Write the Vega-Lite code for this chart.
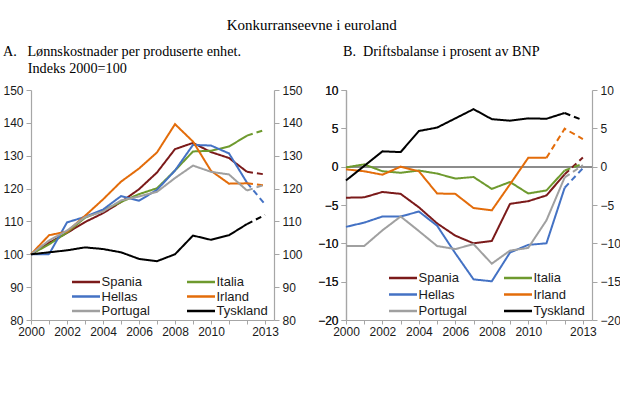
{
  "$schema": "https://vega.github.io/schema/vega-lite/v6.json",
  "background": "white",
  "padding": {"left": 2, "top": 17, "right": 4, "bottom": 4},
  "title": {"text": "Konkurranseevne i euroland", "font": "Liberation Serif", "fontSize": 15, "fontWeight": "normal", "color": "#000", "anchor": "middle", "offset": 12},
  "config": {
    "view": {"stroke": null},
    "axis": {"labelFont": "Liberation Sans", "labelFontSize": 12, "labelColor": "#1a1a1a", "domainColor": "#A6A6A6", "tickColor": "#A6A6A6", "domainWidth": 1.2, "grid": false, "title": null, "tickSize": 5, "labelPadding": 3},
    "legend": {"orient": "none", "columns": 2, "padding": 0, "symbolType": "M-2.55,0H2.55", "symbolStrokeWidth": 2.5, "symbolSize": 121, "labelFont": "Liberation Sans", "labelFontSize": 13, "labelColor": "#1a1a1a", "labelOffset": 8.5, "rowPadding": 0.5, "title": null, "gridAlign": "all"}
  },
  "resolve": {"legend": {"color": "independent"}},
  "spacing": 14,
  "datasets": {
    "A": [
      {"land": "Spania", "year": 2000, "v": 100, "s": "faktisk"},
      {"land": "Spania", "year": 2001, "v": 103.5, "s": "faktisk"},
      {"land": "Spania", "year": 2002, "v": 106.5, "s": "faktisk"},
      {"land": "Spania", "year": 2003, "v": 109.8, "s": "faktisk"},
      {"land": "Spania", "year": 2004, "v": 112.5, "s": "faktisk"},
      {"land": "Spania", "year": 2005, "v": 115.9, "s": "faktisk"},
      {"land": "Spania", "year": 2006, "v": 119.8, "s": "faktisk"},
      {"land": "Spania", "year": 2007, "v": 124.9, "s": "faktisk"},
      {"land": "Spania", "year": 2008, "v": 132, "s": "faktisk"},
      {"land": "Spania", "year": 2009, "v": 133.9, "s": "faktisk"},
      {"land": "Spania", "year": 2010, "v": 131.1, "s": "faktisk"},
      {"land": "Spania", "year": 2011, "v": 129.3, "s": "faktisk"},
      {"land": "Spania", "year": 2012, "v": 125.1, "s": "faktisk"},
      {"land": "Spania", "year": 2012, "v": 125.1, "s": "anslag"},
      {"land": "Spania", "year": 2013, "v": 124.3, "s": "anslag"},
      {"land": "Italia", "year": 2000, "v": 100, "s": "faktisk"},
      {"land": "Italia", "year": 2001, "v": 103, "s": "faktisk"},
      {"land": "Italia", "year": 2002, "v": 106.6, "s": "faktisk"},
      {"land": "Italia", "year": 2003, "v": 111.1, "s": "faktisk"},
      {"land": "Italia", "year": 2004, "v": 113.4, "s": "faktisk"},
      {"land": "Italia", "year": 2005, "v": 115.9, "s": "faktisk"},
      {"land": "Italia", "year": 2006, "v": 118.3, "s": "faktisk"},
      {"land": "Italia", "year": 2007, "v": 120.1, "s": "faktisk"},
      {"land": "Italia", "year": 2008, "v": 125.5, "s": "faktisk"},
      {"land": "Italia", "year": 2009, "v": 131.3, "s": "faktisk"},
      {"land": "Italia", "year": 2010, "v": 131.5, "s": "faktisk"},
      {"land": "Italia", "year": 2011, "v": 132.8, "s": "faktisk"},
      {"land": "Italia", "year": 2012, "v": 136.1, "s": "faktisk"},
      {"land": "Italia", "year": 2012, "v": 136.1, "s": "anslag"},
      {"land": "Italia", "year": 2013, "v": 137.9, "s": "anslag"},
      {"land": "Hellas", "year": 2000, "v": 100, "s": "faktisk"},
      {"land": "Hellas", "year": 2001, "v": 100, "s": "faktisk"},
      {"land": "Hellas", "year": 2002, "v": 109.7, "s": "faktisk"},
      {"land": "Hellas", "year": 2003, "v": 111.4, "s": "faktisk"},
      {"land": "Hellas", "year": 2004, "v": 113.6, "s": "faktisk"},
      {"land": "Hellas", "year": 2005, "v": 117.7, "s": "faktisk"},
      {"land": "Hellas", "year": 2006, "v": 116.3, "s": "faktisk"},
      {"land": "Hellas", "year": 2007, "v": 119.6, "s": "faktisk"},
      {"land": "Hellas", "year": 2008, "v": 125.5, "s": "faktisk"},
      {"land": "Hellas", "year": 2009, "v": 133.3, "s": "faktisk"},
      {"land": "Hellas", "year": 2010, "v": 133.1, "s": "faktisk"},
      {"land": "Hellas", "year": 2011, "v": 130.7, "s": "faktisk"},
      {"land": "Hellas", "year": 2012, "v": 121.8, "s": "faktisk"},
      {"land": "Hellas", "year": 2012, "v": 121.8, "s": "anslag"},
      {"land": "Hellas", "year": 2013, "v": 115.2, "s": "anslag"},
      {"land": "Irland", "year": 2000, "v": 100, "s": "faktisk"},
      {"land": "Irland", "year": 2001, "v": 105.8, "s": "faktisk"},
      {"land": "Irland", "year": 2002, "v": 106.9, "s": "faktisk"},
      {"land": "Irland", "year": 2003, "v": 111.7, "s": "faktisk"},
      {"land": "Irland", "year": 2004, "v": 116.7, "s": "faktisk"},
      {"land": "Irland", "year": 2005, "v": 122.1, "s": "faktisk"},
      {"land": "Irland", "year": 2006, "v": 126.1, "s": "faktisk"},
      {"land": "Irland", "year": 2007, "v": 131, "s": "faktisk"},
      {"land": "Irland", "year": 2008, "v": 139.6, "s": "faktisk"},
      {"land": "Irland", "year": 2009, "v": 134.3, "s": "faktisk"},
      {"land": "Irland", "year": 2010, "v": 125.4, "s": "faktisk"},
      {"land": "Irland", "year": 2011, "v": 121.5, "s": "faktisk"},
      {"land": "Irland", "year": 2012, "v": 121.6, "s": "faktisk"},
      {"land": "Irland", "year": 2012, "v": 121.6, "s": "anslag"},
      {"land": "Irland", "year": 2013, "v": 120.9, "s": "anslag"},
      {"land": "Portugal", "year": 2000, "v": 100, "s": "faktisk"},
      {"land": "Portugal", "year": 2001, "v": 104.2, "s": "faktisk"},
      {"land": "Portugal", "year": 2002, "v": 107.2, "s": "faktisk"},
      {"land": "Portugal", "year": 2003, "v": 111.3, "s": "faktisk"},
      {"land": "Portugal", "year": 2004, "v": 113, "s": "faktisk"},
      {"land": "Portugal", "year": 2005, "v": 116.4, "s": "faktisk"},
      {"land": "Portugal", "year": 2006, "v": 117.6, "s": "faktisk"},
      {"land": "Portugal", "year": 2007, "v": 119, "s": "faktisk"},
      {"land": "Portugal", "year": 2008, "v": 123.2, "s": "faktisk"},
      {"land": "Portugal", "year": 2009, "v": 127, "s": "faktisk"},
      {"land": "Portugal", "year": 2010, "v": 125.1, "s": "faktisk"},
      {"land": "Portugal", "year": 2011, "v": 124.3, "s": "faktisk"},
      {"land": "Portugal", "year": 2012, "v": 119.4, "s": "faktisk"},
      {"land": "Portugal", "year": 2012, "v": 119.4, "s": "anslag"},
      {"land": "Portugal", "year": 2013, "v": 121.2, "s": "anslag"},
      {"land": "Tyskland", "year": 2000, "v": 100, "s": "faktisk"},
      {"land": "Tyskland", "year": 2001, "v": 100.6, "s": "faktisk"},
      {"land": "Tyskland", "year": 2002, "v": 101.2, "s": "faktisk"},
      {"land": "Tyskland", "year": 2003, "v": 102.1, "s": "faktisk"},
      {"land": "Tyskland", "year": 2004, "v": 101.6, "s": "faktisk"},
      {"land": "Tyskland", "year": 2005, "v": 100.6, "s": "faktisk"},
      {"land": "Tyskland", "year": 2006, "v": 98.6, "s": "faktisk"},
      {"land": "Tyskland", "year": 2007, "v": 97.9, "s": "faktisk"},
      {"land": "Tyskland", "year": 2008, "v": 100, "s": "faktisk"},
      {"land": "Tyskland", "year": 2009, "v": 105.7, "s": "faktisk"},
      {"land": "Tyskland", "year": 2010, "v": 104.4, "s": "faktisk"},
      {"land": "Tyskland", "year": 2011, "v": 105.8, "s": "faktisk"},
      {"land": "Tyskland", "year": 2012, "v": 109.2, "s": "faktisk"},
      {"land": "Tyskland", "year": 2012, "v": 109.2, "s": "anslag"},
      {"land": "Tyskland", "year": 2013, "v": 112, "s": "anslag"}
    ],
    "B": [
      {"land": "Spania", "year": 2000, "v": -4.05, "s": "faktisk"},
      {"land": "Spania", "year": 2001, "v": -4.0, "s": "faktisk"},
      {"land": "Spania", "year": 2002, "v": -3.3, "s": "faktisk"},
      {"land": "Spania", "year": 2003, "v": -3.55, "s": "faktisk"},
      {"land": "Spania", "year": 2004, "v": -5.3, "s": "faktisk"},
      {"land": "Spania", "year": 2005, "v": -7.4, "s": "faktisk"},
      {"land": "Spania", "year": 2006, "v": -9.0, "s": "faktisk"},
      {"land": "Spania", "year": 2007, "v": -10.0, "s": "faktisk"},
      {"land": "Spania", "year": 2008, "v": -9.7, "s": "faktisk"},
      {"land": "Spania", "year": 2009, "v": -4.85, "s": "faktisk"},
      {"land": "Spania", "year": 2010, "v": -4.5, "s": "faktisk"},
      {"land": "Spania", "year": 2011, "v": -3.75, "s": "faktisk"},
      {"land": "Spania", "year": 2012, "v": -1.0, "s": "faktisk"},
      {"land": "Spania", "year": 2012, "v": -1.0, "s": "anslag"},
      {"land": "Spania", "year": 2013, "v": 1.2, "s": "anslag"},
      {"land": "Italia", "year": 2000, "v": -0.1, "s": "faktisk"},
      {"land": "Italia", "year": 2001, "v": 0.3, "s": "faktisk"},
      {"land": "Italia", "year": 2002, "v": -0.6, "s": "faktisk"},
      {"land": "Italia", "year": 2003, "v": -0.8, "s": "faktisk"},
      {"land": "Italia", "year": 2004, "v": -0.5, "s": "faktisk"},
      {"land": "Italia", "year": 2005, "v": -0.9, "s": "faktisk"},
      {"land": "Italia", "year": 2006, "v": -1.55, "s": "faktisk"},
      {"land": "Italia", "year": 2007, "v": -1.35, "s": "faktisk"},
      {"land": "Italia", "year": 2008, "v": -2.9, "s": "faktisk"},
      {"land": "Italia", "year": 2009, "v": -2.0, "s": "faktisk"},
      {"land": "Italia", "year": 2010, "v": -3.5, "s": "faktisk"},
      {"land": "Italia", "year": 2011, "v": -3.1, "s": "faktisk"},
      {"land": "Italia", "year": 2012, "v": -0.5, "s": "faktisk"},
      {"land": "Italia", "year": 2012, "v": -0.5, "s": "anslag"},
      {"land": "Italia", "year": 2013, "v": 0.4, "s": "anslag"},
      {"land": "Hellas", "year": 2000, "v": -7.85, "s": "faktisk"},
      {"land": "Hellas", "year": 2001, "v": -7.3, "s": "faktisk"},
      {"land": "Hellas", "year": 2002, "v": -6.5, "s": "faktisk"},
      {"land": "Hellas", "year": 2003, "v": -6.5, "s": "faktisk"},
      {"land": "Hellas", "year": 2004, "v": -5.85, "s": "faktisk"},
      {"land": "Hellas", "year": 2005, "v": -7.7, "s": "faktisk"},
      {"land": "Hellas", "year": 2006, "v": -11.3, "s": "faktisk"},
      {"land": "Hellas", "year": 2007, "v": -14.7, "s": "faktisk"},
      {"land": "Hellas", "year": 2008, "v": -14.95, "s": "faktisk"},
      {"land": "Hellas", "year": 2009, "v": -11.2, "s": "faktisk"},
      {"land": "Hellas", "year": 2010, "v": -10.2, "s": "faktisk"},
      {"land": "Hellas", "year": 2011, "v": -10.0, "s": "faktisk"},
      {"land": "Hellas", "year": 2012, "v": -2.75, "s": "faktisk"},
      {"land": "Hellas", "year": 2012, "v": -2.75, "s": "anslag"},
      {"land": "Hellas", "year": 2013, "v": -0.2, "s": "anslag"},
      {"land": "Irland", "year": 2000, "v": -0.35, "s": "faktisk"},
      {"land": "Irland", "year": 2001, "v": -0.6, "s": "faktisk"},
      {"land": "Irland", "year": 2002, "v": -1.05, "s": "faktisk"},
      {"land": "Irland", "year": 2003, "v": 0.0, "s": "faktisk"},
      {"land": "Irland", "year": 2004, "v": -0.6, "s": "faktisk"},
      {"land": "Irland", "year": 2005, "v": -3.5, "s": "faktisk"},
      {"land": "Irland", "year": 2006, "v": -3.55, "s": "faktisk"},
      {"land": "Irland", "year": 2007, "v": -5.4, "s": "faktisk"},
      {"land": "Irland", "year": 2008, "v": -5.7, "s": "faktisk"},
      {"land": "Irland", "year": 2009, "v": -2.3, "s": "faktisk"},
      {"land": "Irland", "year": 2010, "v": 1.15, "s": "faktisk"},
      {"land": "Irland", "year": 2011, "v": 1.15, "s": "faktisk"},
      {"land": "Irland", "year": 2011, "v": 1.15, "s": "anslag"},
      {"land": "Irland", "year": 2012, "v": 4.95, "s": "anslag"},
      {"land": "Irland", "year": 2013, "v": 3.6, "s": "anslag"},
      {"land": "Portugal", "year": 2000, "v": -10.35, "s": "faktisk"},
      {"land": "Portugal", "year": 2001, "v": -10.35, "s": "faktisk"},
      {"land": "Portugal", "year": 2002, "v": -8.3, "s": "faktisk"},
      {"land": "Portugal", "year": 2003, "v": -6.5, "s": "faktisk"},
      {"land": "Portugal", "year": 2004, "v": -8.4, "s": "faktisk"},
      {"land": "Portugal", "year": 2005, "v": -10.35, "s": "faktisk"},
      {"land": "Portugal", "year": 2006, "v": -10.75, "s": "faktisk"},
      {"land": "Portugal", "year": 2007, "v": -10.1, "s": "faktisk"},
      {"land": "Portugal", "year": 2008, "v": -12.65, "s": "faktisk"},
      {"land": "Portugal", "year": 2009, "v": -10.95, "s": "faktisk"},
      {"land": "Portugal", "year": 2010, "v": -10.6, "s": "faktisk"},
      {"land": "Portugal", "year": 2011, "v": -7.0, "s": "faktisk"},
      {"land": "Portugal", "year": 2012, "v": -1.4, "s": "faktisk"},
      {"land": "Portugal", "year": 2012, "v": -1.4, "s": "anslag"},
      {"land": "Portugal", "year": 2013, "v": 0.2, "s": "anslag"},
      {"land": "Tyskland", "year": 2000, "v": -1.8, "s": "faktisk"},
      {"land": "Tyskland", "year": 2001, "v": 0.1, "s": "faktisk"},
      {"land": "Tyskland", "year": 2002, "v": 2.0, "s": "faktisk"},
      {"land": "Tyskland", "year": 2003, "v": 1.9, "s": "faktisk"},
      {"land": "Tyskland", "year": 2004, "v": 4.65, "s": "faktisk"},
      {"land": "Tyskland", "year": 2005, "v": 5.1, "s": "faktisk"},
      {"land": "Tyskland", "year": 2006, "v": 6.3, "s": "faktisk"},
      {"land": "Tyskland", "year": 2007, "v": 7.5, "s": "faktisk"},
      {"land": "Tyskland", "year": 2008, "v": 6.2, "s": "faktisk"},
      {"land": "Tyskland", "year": 2009, "v": 6.0, "s": "faktisk"},
      {"land": "Tyskland", "year": 2010, "v": 6.3, "s": "faktisk"},
      {"land": "Tyskland", "year": 2011, "v": 6.25, "s": "faktisk"},
      {"land": "Tyskland", "year": 2012, "v": 7.0, "s": "faktisk"},
      {"land": "Tyskland", "year": 2012, "v": 7.0, "s": "anslag"},
      {"land": "Tyskland", "year": 2013, "v": 6.05, "s": "anslag"}
    ]
  },
  "hconcat": [
    {
      "width": 243,
      "height": 230,
      "title": {"text": ["A.\u00a0\u00a0\u00a0Lønnskostnader per produserte enhet.", "\u200b\u00a0\u00a0\u00a0\u00a0\u00a0\u00a0\u00a0Indeks 2000=100"], "anchor": "start", "frame": "bounds", "font": "Liberation Serif", "fontSize": 14.2, "fontWeight": "normal", "color": "#000", "offset": 8, "lineHeight": 17},
      "data": {"name": "A"},
      "layer": [
        {
          "mark": {"type": "line", "strokeWidth": 2},
          "encoding": {
            "x": {"field": "year", "type": "quantitative", "scale": {"domain": [2000, 2013.5], "nice": false, "zero": false},
                  "axis": {"values": [2000, 2001, 2002, 2003, 2004, 2005, 2006, 2007, 2008, 2009, 2010, 2011, 2012, 2013], "tickCount": 30, "format": "d", "labelFlush": false, "labelOverlap": false, "tickSize": 4, "labelPadding": 2,
                           "labelExpr": "((datum.value % 2 == 0 && datum.value <= 2010) || datum.value == 2013) ? datum.label : ''"}},
            "y": {"field": "v", "type": "quantitative", "scale": {"domain": [80, 150], "nice": false, "zero": false},
                  "axis": {"orient": "left", "values": [80, 90, 100, 110, 120, 130, 140, 150]}},
            "color": {"field": "land", "type": "nominal",
                      "scale": {"domain": ["Spania", "Hellas", "Portugal", "Italia", "Irland", "Tyskland"], "range": ["#7B1A1A", "#4472C4", "#A0A0A0", "#6E9A2E", "#E36C0A", "#000000"]},
                      "legend": {"legendX": 48, "legendY": 185, "columnPadding": 28}},
            "strokeDash": {"field": "s", "type": "nominal", "scale": {"domain": ["faktisk", "anslag"], "range": [[1, 0], [6, 4]]}, "legend": null}
          }
        },
        {
          "mark": {"type": "point", "opacity": 0},
          "encoding": {
            "x": {"field": "year", "type": "quantitative",
                  "axis": {"values": [2000, 2001, 2002, 2003, 2004, 2005, 2006, 2007, 2008, 2009, 2010, 2011, 2012, 2013], "tickCount": 30, "format": "d", "labelFlush": false, "labelOverlap": false, "tickSize": 4, "labelPadding": 2,
                           "labelExpr": "((datum.value % 2 == 0 && datum.value <= 2010) || datum.value == 2013) ? datum.label : ''"}},
            "y": {"field": "v", "type": "quantitative", "axis": {"orient": "right", "values": [80, 90, 100, 110, 120, 130, 140, 150]}}
          }
        }
      ],
      "resolve": {"axis": {"y": "independent"}}
    },
    {
      "width": 246,
      "height": 230,
      "title": {"text": "B.\u00a0\u00a0Driftsbalanse i prosent av BNP", "anchor": "start", "frame": "group", "dx": -3, "font": "Liberation Serif", "fontSize": 14.2, "fontWeight": "normal", "color": "#000", "offset": 25},
      "data": {"name": "B"},
      "layer": [
        {
          "mark": {"type": "rule", "color": "#8C8C8C", "strokeWidth": 1.3},
          "encoding": {"y": {"datum": 0}}
        },
        {
          "mark": {"type": "line", "strokeWidth": 2},
          "encoding": {
            "x": {"field": "year", "type": "quantitative", "scale": {"domain": [2000, 2013.5], "nice": false, "zero": false},
                  "axis": {"values": [2000, 2001, 2002, 2003, 2004, 2005, 2006, 2007, 2008, 2009, 2010, 2011, 2012, 2013], "tickCount": 30, "format": "d", "labelFlush": false, "labelOverlap": false, "tickSize": 4, "labelPadding": 2,
                           "labelExpr": "((datum.value % 2 == 0 && datum.value <= 2010) || datum.value == 2013) ? datum.label : ''"}},
            "y": {"field": "v", "type": "quantitative", "scale": {"domain": [-20, 10], "nice": false, "zero": false},
                  "axis": {"orient": "left", "values": [-20, -15, -10, -5, 0, 5, 10]}},
            "color": {"field": "land", "type": "nominal",
                      "scale": {"domain": ["Spania", "Hellas", "Portugal", "Italia", "Irland", "Tyskland"], "range": ["#7B1A1A", "#4472C4", "#A0A0A0", "#6E9A2E", "#E36C0A", "#000000"]},
                      "legend": {"legendX": 50, "legendY": 181, "columnPadding": 28, "rowPadding": 2.5}},
            "strokeDash": {"field": "s", "type": "nominal", "scale": {"domain": ["faktisk", "anslag"], "range": [[1, 0], [6, 4]]}, "legend": null}
          }
        },
        {
          "mark": {"type": "point", "opacity": 0},
          "encoding": {
            "x": {"field": "year", "type": "quantitative",
                  "axis": {"values": [2000, 2001, 2002, 2003, 2004, 2005, 2006, 2007, 2008, 2009, 2010, 2011, 2012, 2013], "tickCount": 30, "format": "d", "labelFlush": false, "labelOverlap": false, "tickSize": 4, "labelPadding": 2,
                           "labelExpr": "((datum.value % 2 == 0 && datum.value <= 2010) || datum.value == 2013) ? datum.label : ''"}},
            "y": {"field": "v", "type": "quantitative", "axis": {"orient": "right", "values": [-20, -15, -10, -5, 0, 5, 10]}}
          }
        }
      ],
      "resolve": {"axis": {"y": "independent"}}
    }
  ]
}
